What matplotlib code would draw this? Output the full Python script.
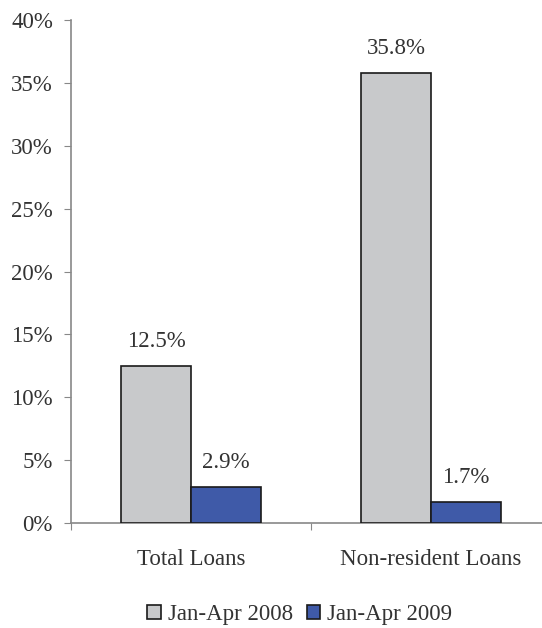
import numpy as np
import matplotlib.pyplot as plt
from matplotlib.ticker import FuncFormatter

categories = ["Total Loans", "Non-resident Loans"]
series_names = ["Jan-Apr 2008", "Jan-Apr 2009"]
values_2008 = [12.5, 35.8]
values_2009 = [2.9, 1.7]
colors = ["#c8c9cb", "#3f5aa8"]

plt.rcParams["font.family"] = ["Liberation Serif", "DejaVu Serif"]
text_color = "#333333"
spine_color = "#888888"
fs = 16.5

fig = plt.figure(figsize=(5.42, 6.28), dpi=100)
# axes run a little past the right edge of the figure
ax = fig.add_axes([71 / 542, 105 / 628, 480 / 542, 503 / 628])

x = np.arange(len(categories))
width = 0.29
for offset, vals, color, name in zip((-width / 2, width / 2), (values_2008, values_2009), colors, series_names):
    bars = ax.bar(x + offset, vals, width, color=color, edgecolor="#1a1a1a", linewidth=1.2, label=name, zorder=3)
    for b, v in zip(bars, vals):
        ax.annotate(f"{v:.1f}%", (b.get_x() + b.get_width() / 2, v), xytext=(0, 10),
                    textcoords="offset points", ha="center", va="bottom",
                    fontsize=fs, color=text_color)

ax.set_xlim(-0.5, 1.5)
ax.set_ylim(0, 40)
ax.set_yticks(np.arange(0, 41, 5))
ax.yaxis.set_major_formatter(FuncFormatter(lambda v, _: f"{v:.0f}%"))
ax.set_xticks([-0.5, 0.5, 1.5])
ax.set_xticklabels([])
ax.set_xticks(x, minor=True)
ax.set_xticklabels(categories, minor=True)
ax.tick_params(axis="x", which="minor", length=0, pad=19, labelsize=fs, labelcolor=text_color)
ax.tick_params(axis="x", which="major", length=5, color=spine_color)
ax.tick_params(axis="y", length=5, color=spine_color, labelsize=fs, labelcolor=text_color, pad=8)

for side in ("top", "right"):
    ax.spines[side].set_visible(False)
for side in ("left", "bottom"):
    ax.spines[side].set_color(spine_color)
    ax.spines[side].set_linewidth(1.2)

fig.legend(loc="lower center", bbox_to_anchor=(0.553, -0.028), ncol=2, frameon=False,
           fontsize=fs, handlelength=0.6, handleheight=0.6, handletextpad=0.3,
           columnspacing=0.6, labelcolor=text_color)

fig.savefig("out.png", dpi=100)
